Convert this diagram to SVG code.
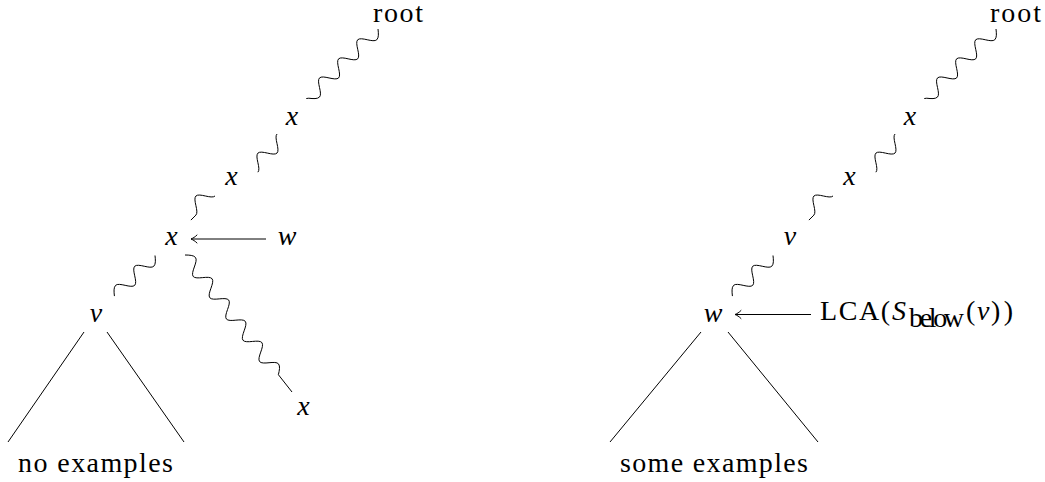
<svg xmlns="http://www.w3.org/2000/svg" width="1045" height="482" viewBox="0 0 1045 482" font-family="Liberation Serif, DejaVu Serif, serif">
<defs>
<style>
text{font-size:28px;fill:#000}
.m{font-style:italic;text-anchor:middle}
.snake,.edge{fill:none;stroke:#000;stroke-width:1}
.snake{stroke-linejoin:round}
</style>
<marker id="to" markerUnits="userSpaceOnUse" orient="auto" markerWidth="12" markerHeight="12" refX="0" refY="0" overflow="visible">
<path d="M-6,-4 C-4.5,-2.2 -1.5,-0.6 0,0 C-1.5,0.6 -4.5,2.2 -6,4" fill="none" stroke="#000" stroke-width="1" stroke-linecap="round"/>
</marker>
</defs>
<rect width="1045" height="482" fill="#fff"/>

<g id="connectors">
  <path class="snake" d="M378,29 c 0.5,4.39 0.86,8.69 -1.19,10.74 c -1.64,1.64 -5.55,0.89 -9.55,0 c -4.01,-0.89 -7.9,-1.64 -9.55,0 c -1.64,1.64 -0.89,5.55 0,9.55 c 0.89,4.01 1.64,7.9 0,9.55 c -1.64,1.64 -5.55,0.89 -9.55,0 c -4.01,-0.89 -7.9,-1.64 -9.55,0 c -1.64,1.64 -0.89,5.55 0,9.55 c 0.89,4.01 1.64,7.9 0,9.55 c -1.64,1.64 -5.55,0.89 -9.55,0 c -4.01,-0.89 -7.9,-1.64 -9.55,0 c -1.64,1.64 -0.89,5.55 0,9.55 c 0.89,4.01 1.64,7.9 0,9.55 c -2.05,2.05 -6.35,1.69 -10.74,1.19 l -2.5,0.3"/>
  <path class="snake" d="M277,134 c -1.64,1.64 -0.89,5.55 0,9.55 c 0.89,4.01 1.64,7.9 0,9.55 c -1.64,1.64 -5.55,0.89 -9.55,0 c -4.01,-0.89 -7.9,-1.64 -9.55,0 c -1.64,1.64 -0.89,5.55 0,9.55 c 0.89,4.01 1.64,7.9 0,9.55"/>
  <path class="snake" d="M215,196 c -1.64,1.64 -5.55,0.89 -9.55,0 c -4.01,-0.89 -7.9,-1.64 -9.55,0 c -1.64,1.64 -0.89,5.55 0,9.55 c 0.89,4.01 1.64,7.9 0,9.55 l -5,5"/>
  <path class="edge" d="M266,239 L191,239" marker-end="url(#to)"/>
  <path class="snake" d="M155,255.5 c 0.5,4.39 0.86,8.69 -1.19,10.74 c -1.64,1.64 -5.55,0.89 -9.55,0 c -4.01,-0.89 -7.9,-1.64 -9.55,0 c -1.64,1.64 -0.89,5.55 0,9.55 c 0.89,4.01 1.64,7.9 0,9.55 c -1.64,1.64 -5.55,0.89 -9.55,0 c -4.01,-0.89 -7.9,-1.64 -9.55,0 c -2.05,2.05 -1.69,6.35 -1.19,10.74"/>
  <path class="snake" d="M185,255 c 4.42,0.04 8.73,0.22 10.51,2.5 c 1.43,1.83 0.21,5.61 -1.17,9.47 c -1.38,3.86 -2.6,7.64 -1.17,9.47 c 1.43,1.83 5.39,1.57 9.47,1.17 c 4.08,-0.4 8.04,-0.66 9.47,1.17 c 1.43,1.83 0.21,5.61 -1.17,9.47 c -1.38,3.86 -2.6,7.64 -1.17,9.47 c 1.43,1.83 5.39,1.57 9.47,1.17 c 4.08,-0.4 8.04,-0.66 9.47,1.17 c 1.43,1.83 0.21,5.61 -1.17,9.47 c -1.38,3.86 -2.6,7.64 -1.17,9.47 c 1.43,1.83 5.39,1.57 9.47,1.17 c 4.08,-0.4 8.04,-0.66 9.47,1.17 c 1.43,1.83 0.21,5.61 -1.17,9.47 c -1.38,3.86 -2.6,7.64 -1.17,9.47 c 1.43,1.83 5.39,1.57 9.47,1.17 c 4.08,-0.4 8.04,-0.66 9.47,1.17 c 1.43,1.83 0.21,5.61 -1.17,9.47 c -1.38,3.86 -2.6,7.64 -1.17,9.47 c 1.43,1.83 5.39,1.57 9.47,1.17 c 4.08,-0.4 8.04,-0.66 9.47,1.17 c 1.78,2.29 0.91,6.5 -0.13,10.8 L292,392"/>
  <path class="edge" d="M84,332 L8,442"/>
  <path class="edge" d="M107,332 L184,442"/>

  <path class="snake" d="M996,29 c 0.5,4.39 0.86,8.69 -1.19,10.74 c -1.64,1.64 -5.55,0.89 -9.55,0 c -4.01,-0.89 -7.9,-1.64 -9.55,0 c -1.64,1.64 -0.89,5.55 0,9.55 c 0.89,4.01 1.64,7.9 0,9.55 c -1.64,1.64 -5.55,0.89 -9.55,0 c -4.01,-0.89 -7.9,-1.64 -9.55,0 c -1.64,1.64 -0.89,5.55 0,9.55 c 0.89,4.01 1.64,7.9 0,9.55 c -1.64,1.64 -5.55,0.89 -9.55,0 c -4.01,-0.89 -7.9,-1.64 -9.55,0 c -1.64,1.64 -0.89,5.55 0,9.55 c 0.89,4.01 1.64,7.9 0,9.55 c -2.05,2.05 -6.35,1.69 -10.74,1.19 l -2.5,0.3"/>
  <path class="snake" d="M895,134 c -1.64,1.64 -0.89,5.55 0,9.55 c 0.89,4.01 1.64,7.9 0,9.55 c -1.64,1.64 -5.55,0.89 -9.55,0 c -4.01,-0.89 -7.9,-1.64 -9.55,0 c -1.64,1.64 -0.89,5.55 0,9.55 c 0.89,4.01 1.64,7.9 0,9.55"/>
  <path class="snake" d="M833,196 c -1.64,1.64 -5.55,0.89 -9.55,0 c -4.01,-0.89 -7.9,-1.64 -9.55,0 c -1.64,1.64 -0.89,5.55 0,9.55 c 0.89,4.01 1.64,7.9 0,9.55 l -5,5"/>
  <path class="snake" d="M773,255.5 c 0.5,4.39 0.86,8.69 -1.19,10.74 c -1.64,1.64 -5.55,0.89 -9.55,0 c -4.01,-0.89 -7.9,-1.64 -9.55,0 c -1.64,1.64 -0.89,5.55 0,9.55 c 0.89,4.01 1.64,7.9 0,9.55 c -1.64,1.64 -5.55,0.89 -9.55,0 c -4.01,-0.89 -7.9,-1.64 -9.55,0 c -2.05,2.05 -1.69,6.35 -1.19,10.74"/>
  <path class="edge" d="M811,314.5 L735,314.5" marker-end="url(#to)"/>
  <path class="edge" d="M701,332 L610,442"/>
  <path class="edge" d="M728,332 L818,442"/>
</g>

<g id="root-left"><text font-family="Liberation Serif" x="373" y="22" textLength="50" lengthAdjust="spacing">root</text></g>
<g id="x1-left"><text font-family="Liberation Serif" class="m" x="292" y="125">x</text></g>
<g id="x2-left"><text font-family="Liberation Serif" class="m" x="231.5" y="185">x</text></g>
<g id="x3-left"><text font-family="Liberation Serif" class="m" x="171.5" y="245">x</text></g>
<g id="w-left"><text font-family="Liberation Serif" class="m" x="287" y="245">w</text></g>
<g id="v-left"><text font-family="Liberation Serif" class="m" x="96" y="321.5">v</text></g>
<g id="x4-left"><text font-family="Liberation Serif" class="m" x="303.5" y="415">x</text></g>
<g id="no-examples"><text font-family="Liberation Serif" x="18" y="472" textLength="155" lengthAdjust="spacing">no examples</text></g>

<g id="root-right"><text font-family="Liberation Serif" x="990" y="22" textLength="51" lengthAdjust="spacing">root</text></g>
<g id="x1-right"><text font-family="Liberation Serif" class="m" x="910" y="125">x</text></g>
<g id="x2-right"><text font-family="Liberation Serif" class="m" x="849.5" y="185">x</text></g>
<g id="v-right"><text font-family="Liberation Serif" class="m" x="790" y="245">v</text></g>
<g id="w-right"><text font-family="Liberation Serif" class="m" x="713" y="321.5">w</text></g>
<g id="lca-right">
  <text font-family="Liberation Serif" x="820" y="320" textLength="70" lengthAdjust="spacing">LCA(</text>
  <text font-family="Liberation Serif" x="892" y="320" font-style="italic">S</text>
  <text font-family="Liberation Serif" x="909" y="327" font-size="20" textLength="55" lengthAdjust="spacing">below</text>
  <text font-family="Liberation Serif" x="966" y="320">(</text>
  <text font-family="Liberation Serif" x="977" y="320" font-style="italic">v</text>
  <text font-family="Liberation Serif" x="991" y="320" textLength="22" lengthAdjust="spacing">))</text>
</g>
<g id="some-examples"><text font-family="Liberation Serif" x="620" y="472" textLength="188" lengthAdjust="spacing">some examples</text></g>
</svg>
